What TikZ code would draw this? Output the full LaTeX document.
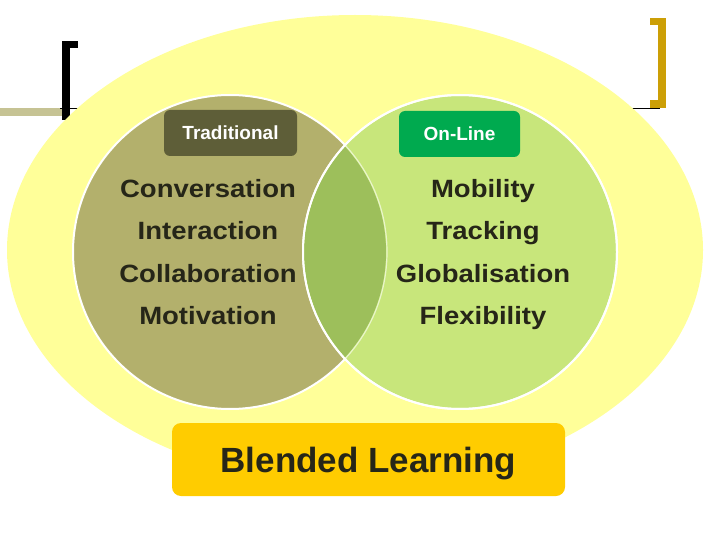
\documentclass[tikz,border=0pt]{standalone}
\usepackage{fontspec}
\setmainfont{Liberation Sans}
\definecolor{ellyellow}{HTML}{FFFF99}
\definecolor{oldolive}{HTML}{B3B06C}
\definecolor{newgreen}{HTML}{C8E67B}
\definecolor{lensgreen}{HTML}{9DBF5B}
\definecolor{tradbox}{HTML}{5E5E38}
\definecolor{onlinebox}{HTML}{00AA4F}
\definecolor{blendbox}{HTML}{FFCC00}
\definecolor{textdark}{HTML}{262618}
\definecolor{barolive}{HTML}{C6C394}
\definecolor{bargold}{HTML}{CC9F06}
\newcommand\widetext[1]{\scalebox{1.1}[1]{#1}}
\begin{document}
\begin{tikzpicture}[x=1pt,y=-1pt,
  lbl/.style={font=\fontsize{25}{30}\selectfont\bfseries, text=textdark, inner sep=0pt, anchor=base},
  tagbox/.style={rounded corners=6pt, minimum height=46pt, inner sep=0pt, text=white,
     font=\fontsize{19}{22}\selectfont\bfseries},
  venn/.style={circle, minimum size=314pt, inner sep=0pt, draw=white, line width=2pt}]
\useasboundingbox (0,0) rectangle (720,540);
% decorations
\fill[barolive] (0,108) rectangle (70,116);
\fill[black] (62,41) rectangle (70,120);
\fill[black] (62,41) rectangle (78,48);
\draw[black, line width=0.6pt] (60,108) -- (78,108);
\fill[bargold] (658,18) rectangle (666,108);
\fill[bargold] (650,18) rectangle (666,25);
\fill[bargold] (650,100) rectangle (666,108);
\draw[black, line width=0.6pt] (631,108) -- (660,108);
% big ellipse
\fill[ellyellow] (355,250) ellipse [x radius=348, y radius=235];
% circles
\node[venn, fill=oldolive] (trad) at (230,252) {};
\node[venn, fill=newgreen] (online) at (460,252) {};
\begin{scope}
  \clip (230,252) circle (156);
  \fill[lensgreen] (460,252) circle (156);
\end{scope}
\begin{scope}
  \clip (460,252) circle (157);
  \draw[white!60!newgreen, line width=1.2pt] (230,252) circle (157);
\end{scope}
\draw[white, line width=2pt] (460,252) circle (157);
% tags
\node[tagbox, fill=tradbox, minimum width=133pt] (tradtag) at (230.5,133) {Traditional};
\node[tagbox, fill=onlinebox, minimum width=121pt] (onlinetag) at (459.5,134) {On-Line};
% left labels
\node[lbl] (conv) at (208,198) {\widetext{Conversation}};
\node[lbl] (inter) at (208,240) {\widetext{Interaction}};
\node[lbl] (collab) at (208,282) {\widetext{Collaboration}};
\node[lbl] (motiv) at (208,324) {\widetext{Motivation}};
% right labels
\node[lbl] (mob) at (483,198) {\widetext{Mobility}};
\node[lbl] (track) at (483,240) {\widetext{Tracking}};
\node[lbl] (glob) at (483,282) {\widetext{Globalisation}};
\node[lbl] (flex) at (483,324) {\widetext{Flexibility}};
% blended
\node[rounded corners=9pt, fill=blendbox, minimum width=393pt, minimum height=73pt, inner sep=0pt,
  text height=30pt, text depth=5pt,
  text=textdark, font=\fontsize{35}{40}\selectfont\bfseries] (blend) at (368.5,459.5) {Blended Learning};
\end{tikzpicture}
\end{document}
